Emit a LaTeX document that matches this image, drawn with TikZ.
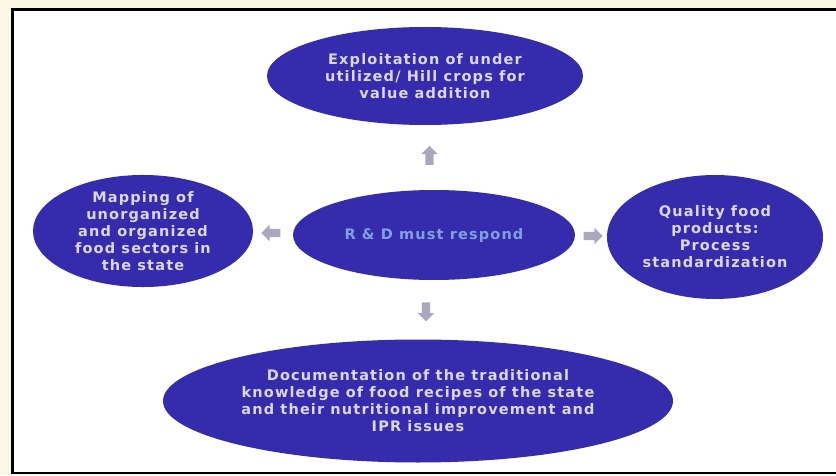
\documentclass[tikz,border=0pt]{standalone}
\usepackage{fontspec}
\setmainfont{DejaVu Sans}
\usetikzlibrary{shapes.geometric,shapes.arrows,calc}
\definecolor{cream}{RGB}{250,247,228}
\definecolor{ovalblue}{RGB}{52,44,172}
\definecolor{ovaltext}{RGB}{218,216,232}
\definecolor{centertext}{RGB}{130,160,225}
\definecolor{arrowgray}{RGB}{170,168,190}
\tikzset{
  oval/.style={ellipse, fill=ovalblue, inner sep=0pt, align=center,
    text=ovaltext, font=\fontsize{14.5}{17}\selectfont\bfseries\addfontfeature{LetterSpace=8}},
  garrow/.style={single arrow, fill=arrowgray, draw=none, inner sep=4pt,
    minimum height=19pt, single arrow head extend=4pt}
}
\begin{document}
\begin{tikzpicture}[x=1pt,y=1pt]
\useasboundingbox (0,0) rectangle (836,475);
\fill[cream] (0,0) rectangle (836,475);
\fill[white] (12,2) rectangle (836,465);
\draw[line width=3pt] (836,465) -- (12,465) -- (12,2);
\draw[line width=2pt] (11,2) -- (836,2);

\node[oval, minimum width=316pt, minimum height=98pt] (t) at (425,399)
  {Exploitation of under\\utilized/ Hill crops for\\value addition};
\node[oval, minimum width=220pt, minimum height=112pt] (l) at (143,244)
  {Mapping of\\unorganized\\and organized\\food sectors in\\the state};
\node[oval, minimum width=216pt, minimum height=124pt] (r) at (715,238)
  {Quality food\\products:\\Process\\standardization};
\node[oval, minimum width=282pt, minimum height=90pt, text=centertext] (c) at (434,240)
  {R \& D must respond};
\node[oval, minimum width=510pt, minimum height=123pt] (b) at (418,74)
  {Documentation of the traditional\\knowledge of food recipes of the state\\and their nutritional improvement and\\IPR issues};

\node[garrow, rotate=90] (au) at ($(c.north)!0.5!(t.south)$) {};
\node[garrow, rotate=180] (al) at ($(c.west)!0.5!(l.east)$) {};
\node[garrow] (ar) at ($(c.east)!0.5!(r.west)$) {};
\node[garrow, rotate=-90] (ad) at ($(c.south)!0.5!(b.north)$) {};
\end{tikzpicture}
\end{document}
